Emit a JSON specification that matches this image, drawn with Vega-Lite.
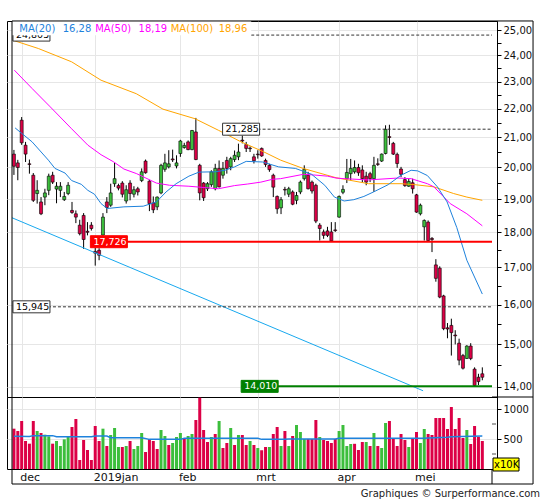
{
  "$schema": "https://vega.github.io/schema/vega-lite/v6.json",
  "padding": {"left": 6, "top": 19, "right": 0, "bottom": 0},
  "spacing": 0,
  "bounds": "flush",
  "title": {
    "text": "Graphiques © Surperformance.com",
    "orient": "bottom",
    "anchor": "end",
    "font": "DejaVu Sans",
    "fontSize": 10,
    "fontWeight": "normal",
    "color": "#222222",
    "offset": 4,
    "dx": 6
  },
  "datasets": {
    "c": [
      {"i":0,"o":20.44,"h":20.58,"l":19.76,"c":20.04},
      {"i":1,"o":20.15,"h":20.25,"l":19.59,"c":20.00},
      {"i":2,"o":21.60,"h":21.71,"l":20.75,"c":20.82},
      {"i":3,"o":20.74,"h":20.85,"l":20.18,"c":20.44},
      {"i":4,"o":20.12,"h":20.26,"l":19.80,"c":20.10},
      {"i":5,"o":19.75,"h":19.82,"l":18.91,"c":18.96},
      {"i":6,"o":19.17,"h":19.59,"l":18.86,"c":19.27},
      {"i":7,"o":18.91,"h":19.06,"l":18.51,"c":18.55},
      {"i":8,"o":19.06,"h":19.32,"l":18.81,"c":19.19},
      {"i":9,"o":19.27,"h":19.80,"l":19.12,"c":19.72},
      {"i":10,"o":19.75,"h":19.86,"l":19.47,"c":19.53},
      {"i":11,"o":19.31,"h":19.53,"l":18.87,"c":19.40},
      {"i":12,"o":19.27,"h":19.53,"l":19.06,"c":19.40},
      {"i":13,"o":18.98,"h":19.22,"l":18.94,"c":19.08},
      {"i":14,"o":19.17,"h":19.53,"l":19.12,"c":19.43},
      {"i":15,"o":18.65,"h":18.91,"l":18.55,"c":18.59},
      {"i":16,"o":18.55,"h":18.65,"l":18.27,"c":18.45},
      {"i":17,"o":18.21,"h":18.37,"l":17.91,"c":17.96},
      {"i":18,"o":18.50,"h":18.57,"l":17.52,"c":17.79},
      {"i":19,"o":18.03,"h":18.30,"l":17.91,"c":18.00},
      {"i":20,"o":18.21,"h":18.30,"l":18.05,"c":18.11},
      {"i":21,"o":17.45,"h":17.55,"l":17.05,"c":17.40},
      {"i":22,"o":17.48,"h":17.54,"l":17.20,"c":17.34},
      {"i":23,"o":17.92,"h":18.57,"l":17.86,"c":18.45},
      {"i":24,"o":18.91,"h":19.06,"l":18.57,"c":18.74},
      {"i":25,"o":18.81,"h":19.48,"l":18.76,"c":19.19},
      {"i":26,"o":19.48,"h":20.15,"l":19.38,"c":19.64},
      {"i":27,"o":19.42,"h":19.48,"l":19.27,"c":19.34},
      {"i":28,"o":19.50,"h":19.56,"l":19.05,"c":19.15},
      {"i":29,"o":18.94,"h":19.43,"l":18.86,"c":19.29},
      {"i":30,"o":19.50,"h":19.59,"l":18.96,"c":19.17},
      {"i":31,"o":19.15,"h":19.40,"l":19.05,"c":19.29},
      {"i":32,"o":19.32,"h":19.38,"l":19.11,"c":19.22},
      {"i":33,"o":19.58,"h":19.97,"l":19.53,"c":19.86},
      {"i":34,"o":20.21,"h":20.26,"l":19.80,"c":19.83},
      {"i":35,"o":19.56,"h":19.60,"l":18.63,"c":18.86},
      {"i":36,"o":18.88,"h":19.08,"l":18.57,"c":18.67},
      {"i":37,"o":18.76,"h":19.08,"l":18.66,"c":19.06},
      {"i":38,"o":19.19,"h":20.12,"l":19.15,"c":20.07},
      {"i":39,"o":19.94,"h":20.45,"l":19.86,"c":20.15},
      {"i":40,"o":20.02,"h":20.57,"l":19.97,"c":20.12},
      {"i":41,"o":20.28,"h":20.59,"l":20.18,"c":20.25},
      {"i":42,"o":20.05,"h":20.40,"l":19.97,"c":20.15},
      {"i":43,"o":20.46,"h":20.92,"l":20.35,"c":20.88},
      {"i":44,"o":20.66,"h":20.82,"l":20.62,"c":20.73},
      {"i":45,"o":20.85,"h":20.90,"l":20.57,"c":20.59},
      {"i":46,"o":20.59,"h":21.26,"l":20.57,"c":21.24},
      {"i":47,"o":21.19,"h":21.68,"l":20.24,"c":20.26},
      {"i":48,"o":20.07,"h":20.12,"l":18.96,"c":19.19},
      {"i":49,"o":19.50,"h":19.53,"l":18.94,"c":19.04},
      {"i":50,"o":19.32,"h":19.53,"l":19.25,"c":19.48},
      {"i":51,"o":19.45,"h":19.91,"l":19.38,"c":19.86},
      {"i":52,"o":19.32,"h":20.12,"l":19.27,"c":19.97},
      {"i":53,"o":19.97,"h":20.23,"l":19.36,"c":19.38},
      {"i":54,"o":19.75,"h":20.18,"l":19.64,"c":19.97},
      {"i":55,"o":20.23,"h":20.35,"l":19.80,"c":19.97},
      {"i":56,"o":20.02,"h":20.35,"l":19.91,"c":20.29},
      {"i":57,"o":20.26,"h":20.56,"l":20.18,"c":20.40},
      {"i":58,"o":20.35,"h":20.79,"l":20.24,"c":20.51},
      {"i":59,"o":20.91,"h":21.07,"l":20.80,"c":20.88},
      {"i":60,"o":20.76,"h":20.85,"l":20.51,"c":20.63},
      {"i":61,"o":20.64,"h":20.70,"l":20.51,"c":20.62},
      {"i":62,"o":20.35,"h":20.45,"l":20.13,"c":20.22},
      {"i":63,"o":20.44,"h":20.57,"l":20.29,"c":20.42},
      {"i":64,"o":20.63,"h":20.66,"l":20.35,"c":20.38},
      {"i":65,"o":20.23,"h":20.29,"l":20.02,"c":20.10},
      {"i":66,"o":20.07,"h":20.12,"l":19.86,"c":19.93},
      {"i":67,"o":19.75,"h":19.80,"l":19.06,"c":19.37},
      {"i":68,"o":19.08,"h":19.11,"l":18.55,"c":18.70},
      {"i":69,"o":18.73,"h":19.06,"l":18.54,"c":18.98},
      {"i":70,"o":19.30,"h":19.38,"l":19.11,"c":19.28},
      {"i":71,"o":19.15,"h":19.38,"l":19.06,"c":19.32},
      {"i":72,"o":19.22,"h":19.27,"l":18.81,"c":18.84},
      {"i":73,"o":18.96,"h":19.22,"l":18.84,"c":19.11},
      {"i":74,"o":19.22,"h":19.58,"l":19.15,"c":19.53},
      {"i":75,"o":19.64,"h":20.07,"l":19.58,"c":19.94},
      {"i":76,"o":19.75,"h":19.86,"l":19.30,"c":19.32},
      {"i":77,"o":19.53,"h":19.58,"l":19.17,"c":19.25},
      {"i":78,"o":19.43,"h":19.48,"l":18.27,"c":18.33},
      {"i":79,"o":18.21,"h":18.27,"l":17.76,"c":18.11},
      {"i":80,"o":18.01,"h":18.08,"l":17.81,"c":17.91},
      {"i":81,"o":18.04,"h":18.16,"l":17.86,"c":17.91},
      {"i":82,"o":18.01,"h":18.30,"l":17.73,"c":17.75},
      {"i":83,"o":18.07,"h":18.30,"l":18.01,"c":18.05},
      {"i":84,"o":18.45,"h":19.11,"l":18.43,"c":19.08},
      {"i":85,"o":19.21,"h":19.43,"l":19.15,"c":19.30},
      {"i":86,"o":19.64,"h":20.28,"l":19.50,"c":19.84},
      {"i":87,"o":19.80,"h":20.28,"l":19.59,"c":19.97},
      {"i":88,"o":19.86,"h":20.23,"l":19.80,"c":20.00},
      {"i":89,"o":20.00,"h":20.12,"l":19.73,"c":19.83},
      {"i":90,"o":19.92,"h":20.07,"l":19.53,"c":19.64},
      {"i":91,"o":19.72,"h":19.86,"l":19.43,"c":19.53},
      {"i":92,"o":19.80,"h":19.86,"l":19.53,"c":19.64},
      {"i":93,"o":19.64,"h":20.35,"l":19.22,"c":20.07},
      {"i":94,"o":20.12,"h":20.30,"l":20.05,"c":20.10},
      {"i":95,"o":20.21,"h":20.46,"l":20.18,"c":20.44},
      {"i":96,"o":20.46,"h":21.42,"l":20.43,"c":21.28},
      {"i":97,"o":21.03,"h":21.44,"l":20.75,"c":21.00},
      {"i":98,"o":20.80,"h":20.85,"l":20.41,"c":20.44},
      {"i":99,"o":20.43,"h":20.49,"l":19.99,"c":20.13},
      {"i":100,"o":19.95,"h":20.02,"l":19.69,"c":19.78},
      {"i":101,"o":19.61,"h":19.69,"l":19.38,"c":19.42},
      {"i":102,"o":19.40,"h":19.64,"l":19.38,"c":19.55},
      {"i":103,"o":19.51,"h":19.64,"l":19.17,"c":19.32},
      {"i":104,"o":19.13,"h":19.16,"l":18.58,"c":18.60},
      {"i":105,"o":18.55,"h":18.86,"l":18.50,"c":18.81},
      {"i":106,"o":18.16,"h":18.38,"l":17.76,"c":18.35},
      {"i":107,"o":18.30,"h":18.35,"l":17.73,"c":17.76},
      {"i":108,"o":17.82,"h":17.86,"l":17.43,"c":17.79},
      {"i":109,"o":17.07,"h":17.23,"l":16.61,"c":16.70},
      {"i":110,"o":16.98,"h":17.03,"l":16.17,"c":16.20},
      {"i":111,"o":16.23,"h":16.26,"l":15.35,"c":15.39},
      {"i":112,"o":15.41,"h":15.53,"l":15.15,"c":15.38},
      {"i":113,"o":15.47,"h":15.64,"l":14.73,"c":15.29},
      {"i":114,"o":15.23,"h":15.35,"l":15.00,"c":15.21},
      {"i":115,"o":15.03,"h":15.14,"l":14.50,"c":14.62},
      {"i":116,"o":14.73,"h":14.77,"l":14.40,"c":14.43},
      {"i":117,"o":14.66,"h":14.98,"l":14.65,"c":14.96},
      {"i":118,"o":14.96,"h":15.03,"l":14.62,"c":14.66},
      {"i":119,"o":14.41,"h":14.45,"l":14.01,"c":14.03},
      {"i":120,"o":14.22,"h":14.30,"l":14.04,"c":14.12},
      {"i":121,"o":14.30,"h":14.45,"l":14.15,"c":14.22}
    ],
    "ma": [
      {"s":"MA100","i":-0.3,"v":24.60},{"s":"MA100","i":6.3,"v":24.27},{"s":"MA100","i":14.9,"v":23.75},
      {"s":"MA100","i":22.5,"v":23.05},{"s":"MA100","i":31.6,"v":22.55},{"s":"MA100","i":38.5,"v":21.99},
      {"s":"MA100","i":46.8,"v":21.65},{"s":"MA100","i":52.8,"v":21.25},{"s":"MA100","i":58.7,"v":20.85},
      {"s":"MA100","i":64.6,"v":20.51},{"s":"MA100","i":68.9,"v":20.24},{"s":"MA100","i":74.7,"v":19.97},
      {"s":"MA100","i":83.2,"v":19.67},{"s":"MA100","i":91.6,"v":19.48},{"s":"MA100","i":100,"v":19.48},
      {"s":"MA100","i":103.5,"v":19.45},{"s":"MA100","i":108.5,"v":19.38},{"s":"MA100","i":113.6,"v":19.17},
      {"s":"MA100","i":117,"v":19.06},{"s":"MA100","i":121,"v":18.96},
      {"s":"MA50","i":0.1,"v":23.43},{"s":"MA50","i":4.7,"v":22.74},{"s":"MA50","i":9.4,"v":22.07},
      {"s":"MA50","i":14.9,"v":21.30},{"s":"MA50","i":19.1,"v":20.74},{"s":"MA50","i":22.5,"v":20.42},
      {"s":"MA50","i":25.8,"v":20.18},{"s":"MA50","i":28.4,"v":19.95},{"s":"MA50","i":31.7,"v":19.80},
      {"s":"MA50","i":36.8,"v":19.50},{"s":"MA50","i":40.2,"v":19.43},{"s":"MA50","i":45.2,"v":19.40},
      {"s":"MA50","i":52.8,"v":19.32},{"s":"MA50","i":57,"v":19.42},{"s":"MA50","i":60.4,"v":19.47},
      {"s":"MA50","i":63.8,"v":19.53},{"s":"MA50","i":66.8,"v":19.62},{"s":"MA50","i":68.9,"v":19.64},
      {"s":"MA50","i":74.8,"v":19.78},{"s":"MA50","i":77.3,"v":19.76},{"s":"MA50","i":81,"v":19.72},
      {"s":"MA50","i":83.2,"v":19.66},{"s":"MA50","i":85.3,"v":19.64},{"s":"MA50","i":91.6,"v":19.60},
      {"s":"MA50","i":99.2,"v":19.66},{"s":"MA50","i":102.6,"v":19.64},{"s":"MA50","i":106.8,"v":19.48},
      {"s":"MA50","i":108.5,"v":19.38},{"s":"MA50","i":112.7,"v":18.86},{"s":"MA50","i":117,"v":18.55},
      {"s":"MA50","i":121,"v":18.19},
      {"s":"MA20","i":0.3,"v":21.33},{"s":"MA20","i":4.7,"v":20.85},{"s":"MA20","i":8.9,"v":20.24},
      {"s":"MA20","i":10.6,"v":19.97},{"s":"MA20","i":13.2,"v":19.82},{"s":"MA20","i":14.9,"v":19.58},
      {"s":"MA20","i":17.4,"v":19.46},{"s":"MA20","i":19.1,"v":19.27},{"s":"MA20","i":20.8,"v":19.15},
      {"s":"MA20","i":22.5,"v":18.86},{"s":"MA20","i":24.1,"v":18.71},{"s":"MA20","i":28.4,"v":18.76},
      {"s":"MA20","i":33.4,"v":18.78},{"s":"MA20","i":36.8,"v":18.91},{"s":"MA20","i":39.3,"v":19.22},
      {"s":"MA20","i":41.9,"v":19.48},{"s":"MA20","i":45.2,"v":19.72},{"s":"MA20","i":47.8,"v":19.85},
      {"s":"MA20","i":52,"v":19.86},{"s":"MA20","i":54.5,"v":19.91},{"s":"MA20","i":57,"v":20.02},
      {"s":"MA20","i":60,"v":20.20},{"s":"MA20","i":64.2,"v":20.18},{"s":"MA20","i":68.4,"v":20.02},
      {"s":"MA20","i":72.7,"v":19.97},{"s":"MA20","i":76.9,"v":19.78},{"s":"MA20","i":80.3,"v":19.43},
      {"s":"MA20","i":82.8,"v":19.06},{"s":"MA20","i":85.3,"v":18.94},{"s":"MA20","i":87.8,"v":18.98},
      {"s":"MA20","i":90.4,"v":19.08},{"s":"MA20","i":92.9,"v":19.22},{"s":"MA20","i":96.7,"v":19.45},
      {"s":"MA20","i":100,"v":19.75},{"s":"MA20","i":102.6,"v":19.91},{"s":"MA20","i":104.3,"v":19.89},
      {"s":"MA20","i":106.8,"v":19.74},{"s":"MA20","i":109.4,"v":19.38},{"s":"MA20","i":111.9,"v":18.91},
      {"s":"MA20","i":114.4,"v":18.14},{"s":"MA20","i":117,"v":17.20},{"s":"MA20","i":121,"v":16.28}
    ],
    "tr": [
      {"i":-0.5,"v":18.43},
      {"i":105.7,"v":13.91}
    ],
    "lv": [
      {"v":24.805,"t":"24,805","b":-0.25,"f":61.3,"k":"dash"},
      {"v":21.285,"t":"21,285","b":53.9,"f":53.9,"k":"dash"},
      {"v":17.726,"t":"17,726","b":19.75,"f":19.75,"k":"red"},
      {"v":15.945,"t":"15,945","b":-0.25,"f":-0.25,"k":"dash"},
      {"v":14.01,"t":"14,010","b":58.7,"f":58.7,"k":"green"}
    ],
    "leg": [
      {"t":"MA(20)","s":"MA20","x":1.4},
      {"t":"16,28","s":"MA20","x":12.6},
      {"t":"MA(50)","s":"MA50","x":21.0},
      {"t":"18,19","s":"MA50","x":32.2},
      {"t":"MA(100)","s":"MA100","x":40.5},
      {"t":"18,96","s":"MA100","x":52.9}
    ],
    "vol": [
      {"i":0,"v":672,"d":"dn"},{"i":1,"v":633,"d":"dn"},{"i":2,"v":800,"d":"dn"},{"i":3,"v":467,"d":"dn"},
      {"i":4,"v":422,"d":"dn"},{"i":5,"v":800,"d":"dn"},{"i":6,"v":633,"d":"up"},{"i":7,"v":600,"d":"dn"},
      {"i":8,"v":572,"d":"up"},{"i":9,"v":544,"d":"up"},{"i":10,"v":422,"d":"dn"},{"i":11,"v":467,"d":"up"},
      {"i":12,"v":383,"d":"up"},{"i":13,"v":494,"d":"up"},{"i":14,"v":550,"d":"up"},{"i":15,"v":700,"d":"dn"},
      {"i":16,"v":833,"d":"dn"},{"i":17,"v":150,"d":"dn"},{"i":18,"v":483,"d":"dn"},{"i":19,"v":317,"d":"dn"},
      {"i":20,"v":150,"d":"dn"},{"i":21,"v":717,"d":"dn"},{"i":22,"v":467,"d":"dn"},{"i":23,"v":672,"d":"up"},
      {"i":24,"v":383,"d":"dn"},{"i":25,"v":567,"d":"up"},{"i":26,"v":683,"d":"up"},{"i":27,"v":367,"d":"up"},
      {"i":28,"v":367,"d":"dn"},{"i":29,"v":383,"d":"up"},{"i":30,"v":467,"d":"dn"},{"i":31,"v":333,"d":"up"},
      {"i":32,"v":383,"d":"up"},{"i":33,"v":600,"d":"up"},{"i":34,"v":283,"d":"dn"},{"i":35,"v":500,"d":"dn"},
      {"i":36,"v":467,"d":"dn"},{"i":37,"v":333,"d":"dn"},{"i":38,"v":650,"d":"up"},{"i":39,"v":550,"d":"up"},
      {"i":40,"v":400,"d":"dn"},{"i":41,"v":433,"d":"up"},{"i":42,"v":533,"d":"up"},{"i":43,"v":600,"d":"up"},
      {"i":44,"v":517,"d":"dn"},{"i":45,"v":550,"d":"up"},{"i":46,"v":583,"d":"up"},{"i":47,"v":817,"d":"dn"},
      {"i":48,"v":1189,"d":"dn"},{"i":49,"v":650,"d":"dn"},{"i":50,"v":450,"d":"dn"},{"i":51,"v":533,"d":"up"},
      {"i":52,"v":583,"d":"dn"},{"i":53,"v":800,"d":"up"},{"i":54,"v":350,"d":"dn"},{"i":55,"v":433,"d":"dn"},
      {"i":56,"v":683,"d":"up"},{"i":57,"v":400,"d":"dn"},{"i":58,"v":567,"d":"up"},{"i":59,"v":567,"d":"dn"},
      {"i":60,"v":400,"d":"dn"},{"i":61,"v":467,"d":"up"},{"i":62,"v":400,"d":"dn"},{"i":63,"v":350,"d":"up"},
      {"i":64,"v":311,"d":"dn"},{"i":65,"v":367,"d":"dn"},{"i":66,"v":367,"d":"up"},{"i":67,"v":583,"d":"dn"},
      {"i":68,"v":700,"d":"dn"},{"i":69,"v":383,"d":"up"},{"i":70,"v":633,"d":"dn"},{"i":71,"v":383,"d":"up"},
      {"i":72,"v":550,"d":"dn"},{"i":73,"v":733,"d":"up"},{"i":74,"v":617,"d":"up"},{"i":75,"v":500,"d":"up"},
      {"i":76,"v":500,"d":"dn"},{"i":77,"v":500,"d":"dn"},{"i":78,"v":817,"d":"dn"},{"i":79,"v":533,"d":"up"},
      {"i":80,"v":483,"d":"dn"},{"i":81,"v":467,"d":"dn"},{"i":82,"v":433,"d":"dn"},{"i":83,"v":500,"d":"dn"},
      {"i":84,"v":633,"d":"up"},{"i":85,"v":733,"d":"up"},{"i":86,"v":383,"d":"up"},{"i":87,"v":417,"d":"up"},
      {"i":88,"v":420,"d":"dn"},{"i":89,"v":317,"d":"dn"},{"i":90,"v":450,"d":"dn"},{"i":91,"v":450,"d":"up"},
      {"i":92,"v":383,"d":"dn"},{"i":93,"v":600,"d":"up"},{"i":94,"v":383,"d":"dn"},{"i":95,"v":350,"d":"up"},
      {"i":96,"v":767,"d":"up"},{"i":97,"v":800,"d":"dn"},{"i":98,"v":517,"d":"dn"},{"i":99,"v":383,"d":"dn"},
      {"i":100,"v":583,"d":"dn"},{"i":101,"v":483,"d":"dn"},{"i":102,"v":367,"d":"up"},{"i":103,"v":500,"d":"dn"},
      {"i":104,"v":617,"d":"dn"},{"i":105,"v":433,"d":"up"},{"i":106,"v":667,"d":"up"},{"i":107,"v":583,"d":"dn"},
      {"i":108,"v":567,"d":"dn"},{"i":109,"v":850,"d":"dn"},{"i":110,"v":850,"d":"dn"},{"i":111,"v":850,"d":"dn"},
      {"i":112,"v":667,"d":"dn"},{"i":113,"v":1033,"d":"dn"},{"i":114,"v":667,"d":"dn"},{"i":115,"v":850,"d":"dn"},
      {"i":116,"v":517,"d":"dn"},{"i":117,"v":650,"d":"up"},{"i":118,"v":417,"d":"dn"},{"i":119,"v":717,"d":"dn"},
      {"i":120,"v":533,"d":"dn"},{"i":121,"v":467,"d":"dn"}
    ],
    "vma": [
      {"i":0,"v":544},{"i":4,"v":540},{"i":5,"v":556},{"i":10,"v":556},{"i":11,"v":539},{"i":20,"v":539},
      {"i":21,"v":550},{"i":24,"v":550},{"i":25,"v":522},{"i":33,"v":522},{"i":35,"v":494},{"i":43,"v":494},
      {"i":44,"v":511},{"i":63,"v":511},{"i":64,"v":494},{"i":70,"v":494},{"i":71,"v":500},{"i":83,"v":500},
      {"i":84,"v":511},{"i":106,"v":511},{"i":107,"v":517},{"i":112,"v":530},{"i":113,"v":539},{"i":121,"v":550}
    ]
  },
  "vconcat": [
    {
      "width": 490,
      "height": 376,
      "layer": [
        {
          "data": {"name": "c"},
          "mark": {"type": "rule", "color": "#000000", "strokeWidth": 1},
          "encoding": {
            "x": {
              "field": "i", "type": "quantitative", "title": null,
              "scale": {"domain": [-0.5, 123.5], "nice": false, "zero": false},
              "axis": {"values": [2, 21, 43, 63, 84, 104], "labels": false, "ticks": false, "domain": false, "grid": true, "title": null}
            },
            "y": {
              "field": "l", "type": "quantitative", "title": null,
              "scale": {"type": "log", "domain": [13.77, 25.38], "nice": false},
              "axis": {
                "orient": "right",
                "values": [14, 14.5, 15, 15.5, 16, 16.5, 17, 17.5, 18, 18.5, 19, 19.5, 20, 20.5, 21, 21.5, 22, 22.5, 23, 23.5, 24, 24.5, 25],
                "labelExpr": "datum.value % 1 == 0 ? replace(format(datum.value, '.2f'), '.', ',') : ''",
                "tickSize": 4,
                "labelPadding": 2,
                "grid": true,
                "gridOpacity": {"condition": {"test": "datum.value % 1 == 0", "value": 1}, "value": 0},
                "labelFlush": false,
                "labelOverlap": false,
                "title": null
              }
            },
            "y2": {"field": "h"}
          }
        },
        {
          "data": {"name": "c"},
          "mark": {"type": "bar", "orient": "vertical", "size": 3, "stroke": "#000000", "strokeWidth": 0.6},
          "encoding": {
            "x": {"field": "i", "type": "quantitative", "title": null, "scale": {"domain": [-0.5, 123.5], "nice": false, "zero": false}},
            "y": {"field": "o", "type": "quantitative", "title": null, "scale": {"type": "log", "domain": [13.77, 25.38], "nice": false}},
            "y2": {"field": "c"},
            "fill": {"condition": {"test": "datum.c >= datum.o", "value": "#3CBE3C"}, "value": "#DC0046"}
          }
        },
        {
          "data": {"name": "ma"},
          "mark": {"type": "line", "strokeWidth": 1},
          "encoding": {
            "x": {"field": "i", "type": "quantitative", "title": null, "scale": {"domain": [-0.5, 123.5], "nice": false, "zero": false}},
            "y": {"field": "v", "type": "quantitative", "title": null, "scale": {"type": "log", "domain": [13.77, 25.38], "nice": false}},
            "detail": {"field": "s"},
            "color": {"field": "s", "type": "nominal", "legend": null,
              "scale": {"domain": ["MA20", "MA50", "MA100"], "range": ["#1E82DC", "#FF00FF", "#FFA500"]}}
          }
        },
        {
          "data": {"name": "tr"},
          "mark": {"type": "line", "color": "#18A8EE", "strokeWidth": 1},
          "encoding": {
            "x": {"field": "i", "type": "quantitative", "title": null, "scale": {"domain": [-0.5, 123.5], "nice": false, "zero": false}},
            "y": {"field": "v", "type": "quantitative", "title": null, "scale": {"type": "log", "domain": [13.77, 25.38], "nice": false}}
          }
        },
        {
          "data": {"name": "lv"},
          "mark": {"type": "rule"},
          "encoding": {
            "x": {"field": "f", "type": "quantitative", "title": null, "scale": {"domain": [-0.5, 123.5], "nice": false, "zero": false}},
            "x2": {"datum": 123.5},
            "y": {"field": "v", "type": "quantitative", "title": null, "scale": {"type": "log", "domain": [13.77, 25.38], "nice": false}},
            "color": {"condition": [{"test": "datum.k == 'red'", "value": "#FF0000"}, {"test": "datum.k == 'green'", "value": "#008000"}], "value": "#333333"},
            "strokeDash": {"condition": {"test": "datum.k == 'dash'", "value": [3, 2]}, "value": [1, 0]},
            "strokeWidth": {"condition": {"test": "datum.k == 'dash'", "value": 1}, "value": 2}
          }
        },
        {
          "data": {"name": "lv"},
          "mark": {"type": "rect", "x2Offset": 37, "yOffset": -6, "y2Offset": 6, "strokeWidth": 1},
          "encoding": {
            "x": {"field": "b", "type": "quantitative", "title": null, "scale": {"domain": [-0.5, 123.5], "nice": false, "zero": false}},
            "x2": {"field": "b"},
            "y": {"field": "v", "type": "quantitative", "title": null, "scale": {"type": "log", "domain": [13.77, 25.38], "nice": false}},
            "y2": {"field": "v"},
            "fill": {"condition": [{"test": "datum.k == 'red'", "value": "#FF0000"}, {"test": "datum.k == 'green'", "value": "#008000"}], "value": "#FFFFFF"},
            "stroke": {"condition": [{"test": "datum.k == 'red'", "value": "#FF0000"}, {"test": "datum.k == 'green'", "value": "#008000"}], "value": "#333333"}
          }
        },
        {
          "data": {"name": "lv"},
          "mark": {"type": "text", "align": "left", "baseline": "middle", "dx": 3, "font": "DejaVu Sans", "fontSize": 9.5},
          "encoding": {
            "x": {"field": "b", "type": "quantitative", "title": null, "scale": {"domain": [-0.5, 123.5], "nice": false, "zero": false}},
            "y": {"field": "v", "type": "quantitative", "title": null, "scale": {"type": "log", "domain": [13.77, 25.38], "nice": false}},
            "text": {"field": "t"},
            "color": {"condition": {"test": "datum.k == 'dash'", "value": "#000000"}, "value": "#FFFFFF"}
          }
        },
        {
          "data": {"values": [{"a": -0.5, "b": 61.3, "lo": 24.80, "hi": 25.38}]},
          "mark": {"type": "rect", "fill": "#FFFFFF"},
          "encoding": {
            "x": {"field": "a", "type": "quantitative", "title": null, "scale": {"domain": [-0.5, 123.5], "nice": false, "zero": false}},
            "x2": {"field": "b"},
            "y": {"field": "lo", "type": "quantitative", "title": null, "scale": {"type": "log", "domain": [13.77, 25.38], "nice": false}},
            "y2": {"field": "hi"}
          }
        },
        {
          "data": {"name": "leg"},
          "mark": {"type": "text", "align": "left", "baseline": "middle", "font": "DejaVu Sans", "fontSize": 10},
          "encoding": {
            "x": {"field": "x", "type": "quantitative", "title": null, "scale": {"domain": [-0.5, 123.5], "nice": false, "zero": false}},
            "y": {"datum": 25.06, "type": "quantitative", "scale": {"type": "log", "domain": [13.77, 25.38], "nice": false}},
            "text": {"field": "t"},
            "color": {"field": "s", "type": "nominal", "legend": null,
              "scale": {"domain": ["MA20", "MA50", "MA100"], "range": ["#1E82DC", "#FF00FF", "#FFA500"]}}
          }
        }
      ]
    },
    {
      "width": 490,
      "height": 72,
      "layer": [
        {
          "data": {"name": "vol"},
          "mark": {"type": "bar", "orient": "vertical", "size": 3},
          "encoding": {
            "x": {
              "field": "i", "type": "quantitative", "title": null,
              "scale": {"domain": [-0.5, 123.5], "nice": false, "zero": false},
              "axis": {
                "values": [2, 21, 43, 63, 84, 104],
                "labelExpr": "datum.value == 2 ? 'dec' : datum.value == 21 ? '2019jan' : datum.value == 43 ? 'feb' : datum.value == 63 ? 'mrt' : datum.value == 84 ? 'apr' : datum.value == 104 ? 'mei' : ''",
                "labelAlign": "left",
                "labelOffset": -2,
                "labelPadding": 2,
                "labelFontSize": 11,
                "ticks": false,
                "domain": false,
                "grid": true,
                "labelFlush": false,
                "labelOverlap": false,
                "title": null
              }
            },
            "y": {
              "field": "v", "type": "quantitative", "title": null,
              "scale": {"domain": [0, 1200], "nice": false},
              "axis": {
                "orient": "right",
                "values": [500, 1000],
                "format": "d",
                "tickSize": 4,
                "labelPadding": 2,
                "grid": true,
                "labelOverlap": false,
                "labelBound": false,
                "labelFlush": false,
                "title": null
              }
            },
            "color": {"condition": {"test": "datum.d == 'up'", "value": "#3CBE3C"}, "value": "#DC0046"}
          }
        },
        {
          "data": {"name": "vma"},
          "mark": {"type": "line", "color": "#1E82DC", "strokeWidth": 1.5},
          "encoding": {
            "x": {"field": "i", "type": "quantitative", "title": null, "scale": {"domain": [-0.5, 123.5], "nice": false, "zero": false}},
            "y": {"field": "v", "type": "quantitative", "title": null, "scale": {"domain": [0, 1200], "nice": false}}
          }
        },
        {
          "data": {"values": [{"m": 250}, {"m": 750}]},
          "mark": {"type": "tick", "orient": "horizontal", "size": 4, "thickness": 1, "color": "#000000", "xOffset": 2, "clip": false},
          "encoding": {
            "x": {"datum": 123.5, "type": "quantitative", "scale": {"domain": [-0.5, 123.5], "nice": false, "zero": false}},
            "y": {"field": "m", "type": "quantitative", "scale": {"domain": [0, 1200], "nice": false}}
          }
        },
        {
          "data": {"values": [{"u": "x10K"}]},
          "mark": {"type": "rect", "fill": "#FFFF00", "stroke": "#000000", "strokeWidth": 1, "clip": false, "xOffset": 1, "x2Offset": 27, "yOffset": -11, "y2Offset": 2},
          "encoding": {
            "x": {"datum": 123.5, "type": "quantitative", "scale": {"domain": [-0.5, 123.5], "nice": false, "zero": false}},
            "x2": {"datum": 123.5},
            "y": {"datum": 0, "type": "quantitative", "scale": {"domain": [0, 1200], "nice": false}},
            "y2": {"datum": 0}
          }
        },
        {
          "data": {"values": [{"u": "x10K"}]},
          "mark": {"type": "text", "align": "left", "baseline": "middle", "dx": 2, "dy": -4, "font": "DejaVu Sans", "fontSize": 10, "color": "#000000", "clip": false},
          "encoding": {
            "x": {"datum": 123.5, "type": "quantitative", "scale": {"domain": [-0.5, 123.5], "nice": false, "zero": false}},
            "y": {"datum": 0, "type": "quantitative", "scale": {"domain": [0, 1200], "nice": false}},
            "text": {"field": "u"}
          }
        },
        {
          "data": {"values": [{"x0": -0.5, "x1": 134.1, "y0": -250, "y1": 7467}]},
          "mark": {"type": "rect", "fill": null, "fillOpacity": 0, "stroke": "#000000", "strokeWidth": 1, "clip": false},
          "encoding": {
            "x": {"field": "x0", "type": "quantitative", "scale": {"domain": [-0.5, 123.5], "nice": false, "zero": false}},
            "x2": {"field": "x1"},
            "y": {"field": "y0", "type": "quantitative", "scale": {"domain": [0, 1200], "nice": false}},
            "y2": {"field": "y1"}
          }
        },
        {
          "data": {"values": [{"x0": 123.5, "x1": 134.1, "y0": 1200, "y1": 1200}, {"x0": 123.5, "x1": 123.5, "y0": -250, "y1": 0}]},
          "mark": {"type": "rule", "color": "#000000", "strokeWidth": 1, "clip": false},
          "encoding": {
            "x": {"field": "x0", "type": "quantitative", "scale": {"domain": [-0.5, 123.5], "nice": false, "zero": false}},
            "x2": {"field": "x1"},
            "y": {"field": "y0", "type": "quantitative", "scale": {"domain": [0, 1200], "nice": false}},
            "y2": {"field": "y1"}
          }
        }
      ]
    }
  ],
  "config": {
    "font": "DejaVu Sans",
    "view": {"stroke": "#000000", "strokeWidth": 1},
    "axis": {
      "labelFont": "DejaVu Sans",
      "labelFontSize": 10,
      "labelColor": "#111111",
      "gridColor": "#E6E6E6",
      "tickColor": "#000000",
      "domainColor": "#000000"
    }
  }
}
